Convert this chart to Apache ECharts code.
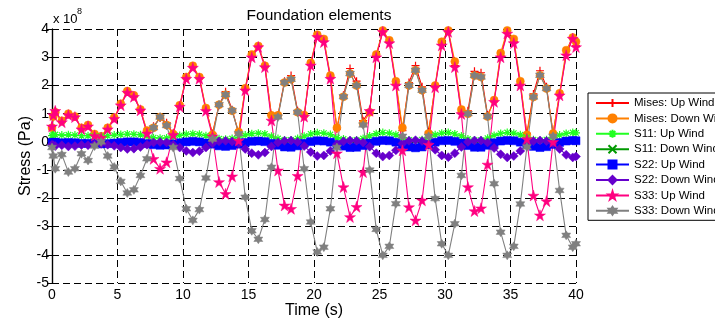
<!DOCTYPE html>
<html>
<head>
<meta charset="utf-8">
<script src="https://cdn.jsdelivr.net/npm/echarts@6/dist/echarts.min.js"></script>
<style>
  html, body { margin: 0; padding: 0; background: #fff; }
  #chart { width: 715px; height: 321px; }
</style>
</head>
<body>
<div id="chart"></div>
<script>
// Sample times (s)
const time = [
  0, 0.1, 0.25, 0.75, 1.25, 1.75, 2.25, 2.75, 3.25, 3.75,
  4.25, 4.75, 5.25, 5.75, 6.25, 6.75, 7.25, 7.75, 8.25, 8.75,
  9.25, 9.75, 10.25, 10.75, 11.25, 11.75, 12.25, 12.75, 13.25, 13.75,
  14.25, 14.75, 15.25, 15.75, 16.25, 16.75, 17.25, 17.75, 18.25, 18.75,
  19.25, 19.75, 20.25, 20.75, 21.25, 21.75, 22.25, 22.75, 23.25, 23.75,
  24.25, 24.75, 25.25, 25.75, 26.25, 26.75, 27.25, 27.75, 28.25, 28.75,
  29.25, 29.75, 30.25, 30.75, 31.25, 31.75, 32.25, 32.75, 33.25, 33.75,
  34.25, 34.75, 35.25, 35.75, 36.25, 36.75, 37.25, 37.75, 38.25, 38.75,
  39.25, 39.75, 40
];

// Stresses in units of 1e8 Pa
const misesUp = [
  0.55, 0.95, 1.1, 0.72, 0.97, 0.88, 0.48, 0.57, 0.25, 0.18,
  0.47, 0.84, 1.32, 1.77, 1.6, 1.13, 0.35, 0.55, 0.85, 0.68,
  0.3, 1.27, 2.27, 2.67, 2.27, 1.15, 0.3, 1.3, 1.78, 1.14,
  0.3, 1.87, 3.05, 3.4, 2.7, 0.95, 0.95, 2.15, 2.35, 1.1,
  0.9, 2.75, 3.77, 3.58, 2.3, 0.45, 1.65, 2.6, 2.15, 0.75,
  1.12, 3.05, 3.92, 3.55, 2.05, 0.4, 2.1, 2.7, 1.95, 0.35,
  1.98, 3.46, 3.92, 2.7, 1.05, 1.1, 2.5, 2.45, 0.95, 1.45,
  3.05, 3.88, 3.55, 2.05, 0.3, 1.7, 2.52, 1.95, 0.3, 1.7,
  3.1, 3.7, 3.4
];
const misesDown = [
  0.5, 0.9, 1.05, 0.75, 1.0, 0.9, 0.5, 0.6, 0.28, 0.2,
  0.5, 0.86, 1.35, 1.8, 1.65, 1.15, 0.4, 0.5, 0.88, 0.6,
  0.28, 1.3, 2.3, 2.7, 2.3, 1.2, 0.25, 1.32, 1.67, 1.1,
  0.35, 1.9, 3.1, 3.4, 2.7, 0.94, 0.94, 2.1, 2.22, 1.05,
  0.95, 2.8, 3.8, 3.65, 2.35, 0.5, 1.6, 2.42, 2.0, 0.65,
  1.05, 3.1, 3.95, 3.6, 2.15, 0.5, 2.0, 2.54, 1.83, 0.3,
  2.0, 3.55, 3.95, 2.85, 1.15, 1.0, 2.35, 2.3, 0.9, 1.48,
  3.15, 3.95, 3.65, 2.15, 0.25, 1.59, 2.36, 1.89, 0.3, 1.72,
  3.25, 3.7, 3.55
];
const s11Up = [
  0.22, 0.25, 0.26, 0.24, 0.25, 0.24, 0.22, 0.22, 0.2, 0.2,
  0.22, 0.24, 0.26, 0.28, 0.27, 0.25, 0.2, 0.15, 0.13, 0.14,
  0.18, 0.23, 0.27, 0.29, 0.27, 0.22, 0.17, 0.11, 0.09, 0.12,
  0.17, 0.24, 0.29, 0.31, 0.28, 0.2, 0.12, 0.07, 0.07, 0.12,
  0.2, 0.28, 0.32, 0.31, 0.26, 0.15, 0.1, 0.05, 0.07, 0.12,
  0.21, 0.29, 0.33, 0.31, 0.25, 0.15, 0.07, 0.05, 0.08, 0.16,
  0.25, 0.31, 0.33, 0.28, 0.21, 0.1, 0.06, 0.06, 0.13, 0.23,
  0.3, 0.33, 0.31, 0.25, 0.16, 0.08, 0.05, 0.08, 0.16, 0.24,
  0.3, 0.33, 0.32
];
const s11Down = [
  0.0, 0.0, 0.01, -0.01, 0.0, -0.01, -0.03, -0.03, -0.04, -0.05,
  -0.04, -0.02, 0.0, 0.02, 0.02, 0.0, -0.04, -0.08, -0.1, -0.09,
  -0.05, -0.01, 0.02, 0.04, 0.02, -0.02, -0.06, -0.12, -0.14, -0.11,
  -0.06, 0.0, 0.04, 0.05, 0.03, -0.03, -0.1, -0.16, -0.17, -0.12,
  -0.03, 0.03, 0.06, 0.05, 0.01, -0.08, -0.13, -0.18, -0.17, -0.11,
  -0.02, 0.04, 0.07, 0.06, 0.01, -0.08, -0.16, -0.19, -0.16, -0.07,
  0.01, 0.06, 0.07, 0.04, -0.02, -0.11, -0.17, -0.17, -0.1, -0.01,
  0.05, 0.07, 0.06, 0.01, -0.07, -0.14, -0.18, -0.15, -0.07, 0.0,
  0.05, 0.07, 0.06
];
const s22Up = [
  -0.02, -0.02, -0.01, -0.03, -0.02, -0.03, -0.05, -0.05, -0.06, -0.07,
  -0.06, -0.04, -0.02, 0.0, 0.0, -0.02, -0.06, -0.1, -0.12, -0.11,
  -0.07, -0.03, 0.0, 0.02, 0.0, -0.04, -0.08, -0.14, -0.16, -0.13,
  -0.08, -0.02, 0.02, 0.03, 0.01, -0.05, -0.12, -0.18, -0.19, -0.14,
  -0.05, 0.01, 0.04, 0.03, -0.01, -0.1, -0.15, -0.2, -0.19, -0.13,
  -0.04, 0.02, 0.05, 0.04, -0.01, -0.1, -0.18, -0.21, -0.18, -0.09,
  -0.01, 0.04, 0.05, 0.02, -0.04, -0.13, -0.19, -0.19, -0.12, -0.03,
  0.03, 0.05, 0.04, -0.01, -0.09, -0.16, -0.2, -0.17, -0.09, -0.02,
  0.03, 0.05, 0.04
];
const s22Down = [
  -0.1, -0.12, -0.15, -0.12, -0.16, -0.15, -0.11, -0.12, -0.08, -0.07,
  -0.1, -0.14, -0.2, -0.25, -0.24, -0.18, -0.1, -0.02, 0.0, -0.02,
  -0.1, -0.2, -0.32, -0.38, -0.33, -0.2, -0.06, 0.02, 0.04, 0.01,
  -0.06, -0.25, -0.4, -0.46, -0.38, -0.16, -0.02, 0.04, 0.05, 0.0,
  -0.15, -0.36, -0.5, -0.48, -0.32, -0.08, 0.02, 0.05, 0.04, -0.02,
  -0.17, -0.4, -0.52, -0.48, -0.3, -0.06, 0.04, 0.06, 0.03, -0.06,
  -0.28, -0.48, -0.54, -0.4, -0.18, 0.0, 0.05, 0.05, -0.02, -0.22,
  -0.44, -0.55, -0.5, -0.32, -0.07, 0.03, 0.05, 0.03, -0.05, -0.25,
  -0.46, -0.55, -0.52
];
const s33Up = [
  0.55, 0.95, 1.1, 0.7, 0.95, 0.88, 0.45, 0.55, 0.22, 0.15,
  0.45, 0.82, 1.3, 1.75, 1.6, 1.12, 0.3, -0.6, -0.95, -0.72,
  0.25, 1.25, 2.24, 2.63, 2.24, 1.1, 0.2, -1.42, -1.84, -1.22,
  0.05, 1.83, 3.0, 3.36, 2.65, 0.76, -1.01, -2.25, -2.37, -1.2,
  0.9, 2.71, 3.72, 3.54, 2.24, -0.4, -1.6, -2.66, -2.3, -1.07,
  1.1, 3.0, 3.9, 3.5, 2.0, -0.3, -2.31, -2.78, -2.07, -0.1,
  1.94, 3.42, 3.9, 2.65, 0.99, -1.6, -2.45, -2.35, -0.8, 1.42,
  3.0, 3.84, 3.5, 2.0, 0.1, -1.9, -2.6, -2.1, 0.0, 1.65,
  3.07, 3.66, 3.36
];
const s33Down = [
  -0.2, -0.5, -0.95, -0.45, -1.07, -0.95, -0.42, -0.66, -0.15, 0.0,
  -0.5, -0.89, -1.4, -1.81, -1.7, -1.19, -0.6, 0.5, 0.88, 0.58,
  -0.2, -1.3, -2.37, -2.78, -2.4, -1.28, 0.1, 1.32, 1.67, 1.11,
  0.29, -1.96, -3.15, -3.45, -2.75, -0.9, 0.88, 2.1, 2.22, 1.05,
  -0.95, -2.84, -3.9, -3.73, -2.37, -0.2, 1.6, 2.42, 2.0, 0.6,
  -1.0, -3.1, -4.02, -3.7, -2.19, 0.2, 2.0, 2.54, 1.83, 0.2,
  -2.01, -3.61, -4.02, -2.9, -1.19, 1.0, 2.35, 2.3, 0.9, -1.48,
  -3.2, -4.02, -3.7, -2.2, -0.18, 1.59, 2.36, 1.89, 0.2, -1.72,
  -3.31, -3.73, -3.61
];

const seriesNames = [
  'Mises: Up Wind', 'Mises: Down Wind', 'S11: Up Wind', 'S11: Down Wind',
  'S22: Up Wind', 'S22: Down Wind', 'S33: Up Wind', 'S33: Down Wind'
];

const FONT = 'Arial, "Liberation Sans", Helvetica, sans-serif';

// Marker outlines
function starPath(points, inner) {
  let d = '';
  for (let k = 0; k < points * 2; k++) {
    const r = k % 2 ? inner : 1;
    const a = -Math.PI / 2 + k * Math.PI / points;
    d += (k ? 'L' : 'M') + (r * Math.cos(a)).toFixed(4) + ',' + (r * Math.sin(a)).toFixed(4);
  }
  return 'path://' + d + 'Z';
}
const PLUS = 'path://M-1,0L1,0M0,-1L0,1';
const CROSS = 'path://M-1,-1L1,1M-1,1L1,-1';
const ASTERISK = 'path://M-1,0L1,0M0,-1L0,1M-0.7,-0.7L0.7,0.7M-0.7,0.7L0.7,-0.7';
const PENTAGRAM = starPath(5, 0.382);
const HEXAGRAM = starPath(6, 0.577);

function pairs(ys) { return time.map((t, i) => [t, ys[i]]); }

function lineSeries(name, ys, color, symbol, size, stroked) {
  return {
    name: name,
    type: 'line',
    data: pairs(ys),
    symbol: symbol,
    symbolSize: size,
    showAllSymbol: true,
    clip: true,
    lineStyle: { color: color, width: 1.1 },
    itemStyle: stroked
      ? { color: 'rgba(0,0,0,0)', borderColor: color, borderWidth: 1.2 }
      : { color: color, borderColor: color, borderWidth: 0.5 },
    emphasis: { disabled: true },
    animation: false
  };
}

const chart = echarts.init(document.getElementById('chart'), null, { renderer: 'canvas' });

const axisCommon = {
  axisLine: { show: true, lineStyle: { color: '#000', width: 1.2 } },
  axisTick: { show: true, inside: true, length: 5, lineStyle: { color: '#000', width: 1 } },
  minorTick: { show: false }
};

chart.setOption({
  animation: false,
  backgroundColor: '#fff',
  textStyle: { fontFamily: FONT },
  title: {
    text: 'Foundation elements',
    left: 314,
    textAlign: 'center',
    top: 3,
    textStyle: { fontFamily: FONT, fontSize: 15.5, fontWeight: 'normal', color: '#000' }
  },
  grid: { left: 52, right: 139, top: 29, bottom: 38, containLabel: false, outerBoundsMode: 'none' },
  xAxis: [
    Object.assign({}, axisCommon, {
      type: 'value', min: 0, max: 40, interval: 5, position: 'bottom',
      name: 'Time (s)', nameLocation: 'middle', nameGap: 20, nameMoveOverlap: false,
      nameTextStyle: { fontFamily: FONT, fontSize: 16, color: '#000' },
      axisLabel: { color: '#000', fontFamily: FONT, fontSize: 14, margin: 5 },
      splitLine: { show: true, lineStyle: { color: '#000', type: [7, 4], width: 1 } }
    }),
    Object.assign({}, axisCommon, {
      type: 'value', min: 0, max: 40, interval: 5, position: 'top',
      axisLabel: { show: false }, splitLine: { show: false }
    })
  ],
  yAxis: [
    Object.assign({}, axisCommon, {
      type: 'value', min: -5, max: 4, interval: 1, position: 'left',
      name: 'Stress (Pa)', nameLocation: 'middle', nameGap: 18, nameRotate: 90, nameMoveOverlap: false,
      nameTextStyle: { fontFamily: FONT, fontSize: 16, color: '#000' },
      axisLabel: { color: '#000', fontFamily: FONT, fontSize: 14, margin: 3 },
      splitLine: { show: true, lineStyle: { color: '#000', type: [7, 4], width: 1 } }
    }),
    Object.assign({}, axisCommon, {
      type: 'value', min: -5, max: 4, interval: 1, position: 'right',
      axisLabel: { show: false }, splitLine: { show: false }
    })
  ],
  legend: {
    orient: 'vertical',
    left: 588,
    top: 93,
    itemWidth: 33,
    itemHeight: 10,
    itemGap: 2.4,
    padding: [3.5, 40, 3, 7],
    borderColor: '#000',
    borderWidth: 1,
    borderRadius: 0,
    backgroundColor: '#fff',
    selectedMode: false,
    data: seriesNames,
    textStyle: { fontFamily: FONT, fontSize: 11.5, color: '#000', lineHeight: 13 }
  },
  graphic: [
    { type: 'text', left: 53, top: 13, style: { text: 'x 10', fontFamily: FONT, fontSize: 13, fill: '#000' } },
    { type: 'text', left: 77, top: 7, style: { text: '8', fontFamily: FONT, fontSize: 9, fill: '#000' } }
  ],
  series: [
    lineSeries(seriesNames[0], misesUp, '#ff0000', PLUS, 8, true),
    lineSeries(seriesNames[1], misesDown, '#ff8000', 'circle', 8, false),
    lineSeries(seriesNames[2], s11Up, '#22ff22', ASTERISK, 8, true),
    lineSeries(seriesNames[3], s11Down, '#009900', CROSS, 6, true),
    lineSeries(seriesNames[4], s22Up, '#0000ff', 'rect', 8, false),
    lineSeries(seriesNames[5], s22Down, '#6600cc', 'diamond', 9, false),
    lineSeries(seriesNames[6], s33Up, '#ff0080', PENTAGRAM, 11, false),
    lineSeries(seriesNames[7], s33Down, '#808080', HEXAGRAM, 9, false)
  ]
});
</script>
</body>
</html>
